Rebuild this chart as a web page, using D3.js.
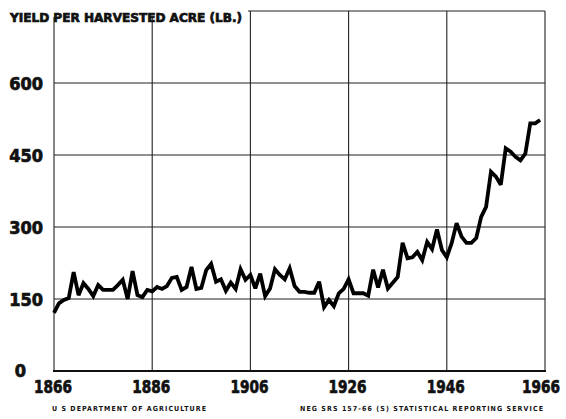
<!DOCTYPE html>
<html>
<head>
<meta charset="utf-8">
<script src="https://cdn.jsdelivr.net/npm/d3@7"></script>
<style>
  body { margin: 0; background: #fff; }
  svg { display: block; }
  text { font-family: "DejaVu Sans Condensed", "DejaVu Sans", sans-serif; font-weight: bold; fill: #111; }
  text.heavy { stroke: #111; stroke-width: 0.7; }
</style>
</head>
<body>
<svg width="566" height="419"></svg>
<script>
// cotton yield per harvested acre, lb
const startYear = 1866;
const yields = [
  121, 141, 148, 152, 206, 158, 183, 171, 156, 179,   // 1866-1875
  169, 169, 169, 179, 190, 150, 208, 158, 154, 169,   // 1876-1885
  166, 175, 171, 177, 194, 196, 169, 175, 217, 171,   // 1886-1895
  173, 210, 223, 186, 191, 167, 184, 171, 212, 190,   // 1896-1905
  200, 172, 203, 156, 172, 212, 200, 191, 214, 177,   // 1906-1915
  165, 165, 163, 163, 186, 133, 148, 135, 162, 171,   // 1916-1925
  191, 162, 162, 162, 157, 211, 174, 211, 172, 184,   // 1926-1935
  196, 267, 235, 237, 248, 231, 269, 254, 295, 252,   // 1936-1945
  237, 267, 308, 280, 267, 267, 277, 321, 342, 415,   // 1946-1955
  405, 388, 464, 457, 446, 439, 453, 516, 516, 523    // 1956-1965
];
const yearTicks = [1866, 1886, 1906, 1926, 1946, 1966];
const valueTicks = [0, 150, 300, 450, 600];

const data = yields.map((v, i) => ({ year: startYear + i, value: v }));

const svg = d3.select("svg");
const m = { left: 54, right: 545, top: 11, bottom: 371 };

const x = d3.scaleLinear().domain([1866, 1966]).range([m.left, m.right]);
const y = d3.scaleLinear().domain([0, 750]).range([m.bottom, m.top]);

// grid
const grid = svg.append("g").attr("stroke", "#222").attr("stroke-width", 1.1);
grid.selectAll("line.h")
  .data(valueTicks.filter(d => d > 0))
  .enter().append("line")
  .attr("x1", m.left).attr("x2", m.right)
  .attr("y1", d => y(d)).attr("y2", d => y(d));
grid.selectAll("line.v")
  .data(yearTicks)
  .enter().append("line")
  .attr("x1", d => x(d)).attr("x2", d => x(d))
  .attr("y1", m.top).attr("y2", m.bottom);
grid.append("line")
  .attr("x1", m.left).attr("x2", m.right)
  .attr("y1", m.top).attr("y2", m.top);

// base line
svg.append("line")
  .attr("x1", m.left - 1).attr("x2", m.right + 1)
  .attr("y1", m.bottom).attr("y2", m.bottom)
  .attr("stroke", "#111").attr("stroke-width", 2.2);

// title knocks out top of grid
svg.append("rect")
  .attr("x", 0).attr("y", 0).attr("width", 248).attr("height", 17)
  .attr("fill", "#fff");
svg.append("text")
  .attr("class", "heavy")
  .attr("x", 10).attr("y", 22)
  .attr("font-size", 13)
  .attr("textLength", 232)
  .attr("lengthAdjust", "spacingAndGlyphs")
  .text("YIELD PER HARVESTED ACRE  (LB.)");

// line
const line = d3.line()
  .x(d => x(d.year))
  .y(d => y(d.value));
svg.append("path")
  .datum(data)
  .attr("d", line)
  .attr("fill", "none")
  .attr("stroke", "#000")
  .attr("stroke-width", 3.8)
  .attr("stroke-linejoin", "miter")
  .attr("stroke-miterlimit", 3);

// y labels
svg.selectAll("text.yl")
  .data(valueTicks)
  .enter().append("text")
  .attr("class", "yl heavy")
  .attr("x", d => d === 0 ? 26 : 43)
  .attr("y", d => d === 0 ? y(d) + 6 : y(d) + 7)
  .attr("text-anchor", "end")
  .attr("font-size", 18)
  .text(d => d);

// x labels
svg.selectAll("text.xl")
  .data(yearTicks)
  .enter().append("text")
  .attr("class", "xl heavy")
  .attr("x", d => Math.min(x(d) - 1, 541))
  .attr("y", 393)
  .attr("text-anchor", "middle")
  .attr("font-size", 18)
  .attr("textLength", 38)
  .attr("lengthAdjust", "spacingAndGlyphs")
  .text(d => d);

// footer
svg.append("text")
  .attr("x", 52).attr("y", 411)
  .attr("font-size", 7)
  .attr("font-weight", "normal")
  .attr("textLength", 154)
  .attr("lengthAdjust", "spacing")
  .text("U S  DEPARTMENT OF AGRICULTURE");
svg.append("text")
  .attr("x", 300).attr("y", 411)
  .attr("font-size", 7)
  .attr("font-weight", "normal")
  .attr("textLength", 243)
  .attr("lengthAdjust", "spacing")
  .text("NEG  SRS 157-66 (S)   STATISTICAL REPORTING SERVICE");
</script>
</body>
</html>
